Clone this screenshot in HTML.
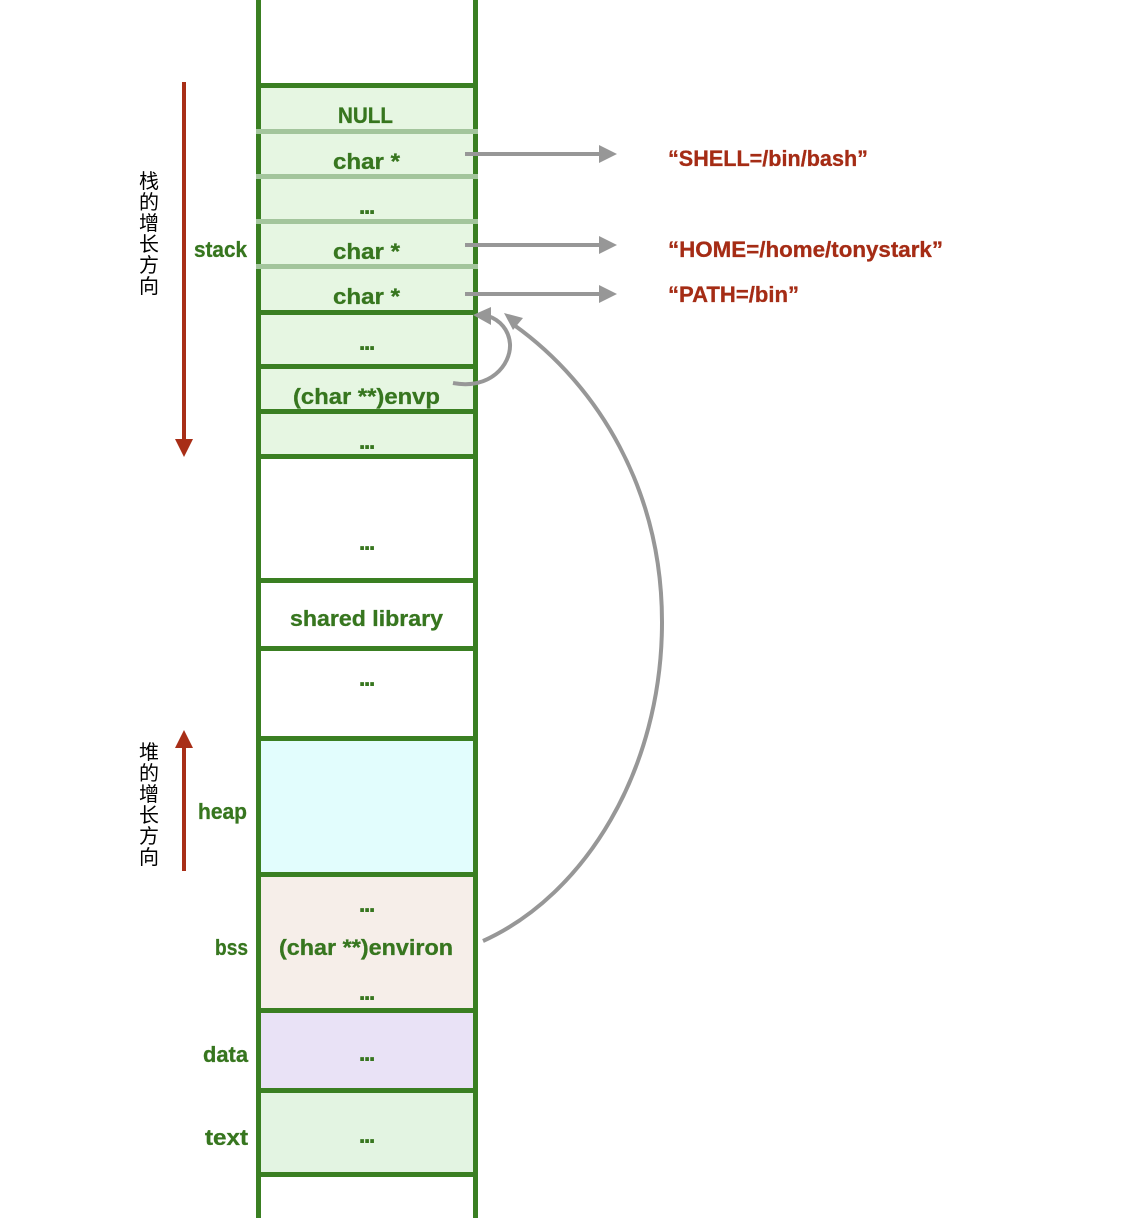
<!DOCTYPE html>
<html><head><meta charset="utf-8"><style>
html,body{margin:0;padding:0;background:#fff}
svg{display:block}
.g{font-family:"Liberation Sans",sans-serif;font-weight:bold;font-size:22px;fill:#37761f;stroke:#37761f;stroke-width:.3}
.d{font-size:26px;letter-spacing:-2.2px;stroke:none}
.r{font-family:"Liberation Sans",sans-serif;font-weight:bold;font-size:22px;fill:#a52c15;stroke:#a52c15;stroke-width:.3}
.c{font-family:"Liberation Sans","Noto Sans CJK SC",sans-serif;font-size:20px;fill:#000;text-anchor:middle}
.l{stroke:#3a7f22;stroke-width:5;fill:none}
.f{stroke:#a3c59c;stroke-width:5}
.a{stroke:#979797;stroke-width:4;fill:none}
</style></head><body>
<svg width="1148" height="1218" viewBox="0 0 1148 1218" xmlns="http://www.w3.org/2000/svg">
<rect x="258" y="85" width="218" height="371" fill="#e6f6e2"/>
<rect x="258" y="738" width="218" height="136" fill="#e2fdfd"/>
<rect x="258" y="874" width="218" height="136" fill="#f6eee9"/>
<rect x="258" y="1010" width="218" height="80" fill="#e9e2f6"/>
<rect x="258" y="1090" width="218" height="84" fill="#e3f4e2"/>
<path class="l" d="M256 85.5H478M256 312.5H478M256 366.5H478M256 411.5H478M256 456.5H478M256 580.5H478M256 648.5H478M256 738.5H478M256 874.5H478M256 1010.5H478M256 1090.5H478M256 1174.5H478"/>
<path class="l" d="M258.5 0V1218M475.5 0V1218"/>
<path class="f" d="M256 131.5H478M256 176.5H478M256 221.5H478M256 266.5H478"/>

<g class="g">
<text x="338" y="123" textLength="55" lengthAdjust="spacingAndGlyphs">NULL</text>
<text x="333" y="169" textLength="67" lengthAdjust="spacingAndGlyphs">char *</text>
<text class="d" x="358.5" y="214">...</text>
<text x="333" y="259" textLength="67" lengthAdjust="spacingAndGlyphs">char *</text>
<text x="333" y="304" textLength="67" lengthAdjust="spacingAndGlyphs">char *</text>
<text class="d" x="358.5" y="350">...</text>
<text x="293" y="404" textLength="147" lengthAdjust="spacingAndGlyphs">(char **)envp</text>
<text class="d" x="358.5" y="449">...</text>
<text class="d" x="358.5" y="550">...</text>
<text x="290" y="626" textLength="153" lengthAdjust="spacingAndGlyphs">shared library</text>
<text class="d" x="358.5" y="686">...</text>
<text class="d" x="358.5" y="912">...</text>
<text x="279" y="955" textLength="174" lengthAdjust="spacingAndGlyphs">(char **)environ</text>
<text class="d" x="358.5" y="1000">...</text>
<text class="d" x="358.5" y="1061">...</text>
<text class="d" x="358.5" y="1143">...</text>
<text x="194" y="257" textLength="53" lengthAdjust="spacingAndGlyphs">stack</text>
<text x="198" y="819" textLength="49" lengthAdjust="spacingAndGlyphs">heap</text>
<text x="215" y="955" textLength="33" lengthAdjust="spacingAndGlyphs">bss</text>
<text x="203" y="1062" textLength="45" lengthAdjust="spacingAndGlyphs">data</text>
<text x="205" y="1145" textLength="43" lengthAdjust="spacingAndGlyphs">text</text>
</g>
<g class="r">
<text x="668" y="166" textLength="200" lengthAdjust="spacingAndGlyphs">“SHELL=/bin/bash”</text>
<text x="668" y="257" textLength="275" lengthAdjust="spacingAndGlyphs">“HOME=/home/tonystark”</text>
<text x="668" y="302" textLength="131" lengthAdjust="spacingAndGlyphs">“PATH=/bin”</text>
</g>

<g class="c">
<text x="149" y="188">栈</text><text x="149" y="209">的</text><text x="149" y="230">增</text><text x="149" y="251">长</text><text x="149" y="272">方</text><text x="149" y="293">向</text>
<text x="149" y="759">堆</text><text x="149" y="780">的</text><text x="149" y="801">增</text><text x="149" y="822">长</text><text x="149" y="843">方</text><text x="149" y="864">向</text>
</g>

<rect x="182" y="82" width="4" height="358" fill="#a82e17"/>
<path d="M175 439H193L184 457Z" fill="#a82e17"/>
<rect x="182" y="747" width="4" height="124" fill="#a82e17"/>
<path d="M175 748H193L184 730Z" fill="#a82e17"/>

<path class="a" d="M465 154H600M465 245H600M465 294H600"/>
<path d="M599 145L617 154L599 163ZM599 236L617 245L599 254ZM599 285L617 294L599 303Z" fill="#979797"/>
<path class="a" d="M453 383C490 390 511 365 510 344C509 330 500 320 488 316"/>
<path d="M473 315L491 307L491 325Z" fill="#979797"/>
<path class="a" d="M483 941C585 895 662 770 662 622C662 490 598 385 514 325"/>
<path d="M504 313L523 318L513 330Z" fill="#979797"/>
</svg>
</body></html>
